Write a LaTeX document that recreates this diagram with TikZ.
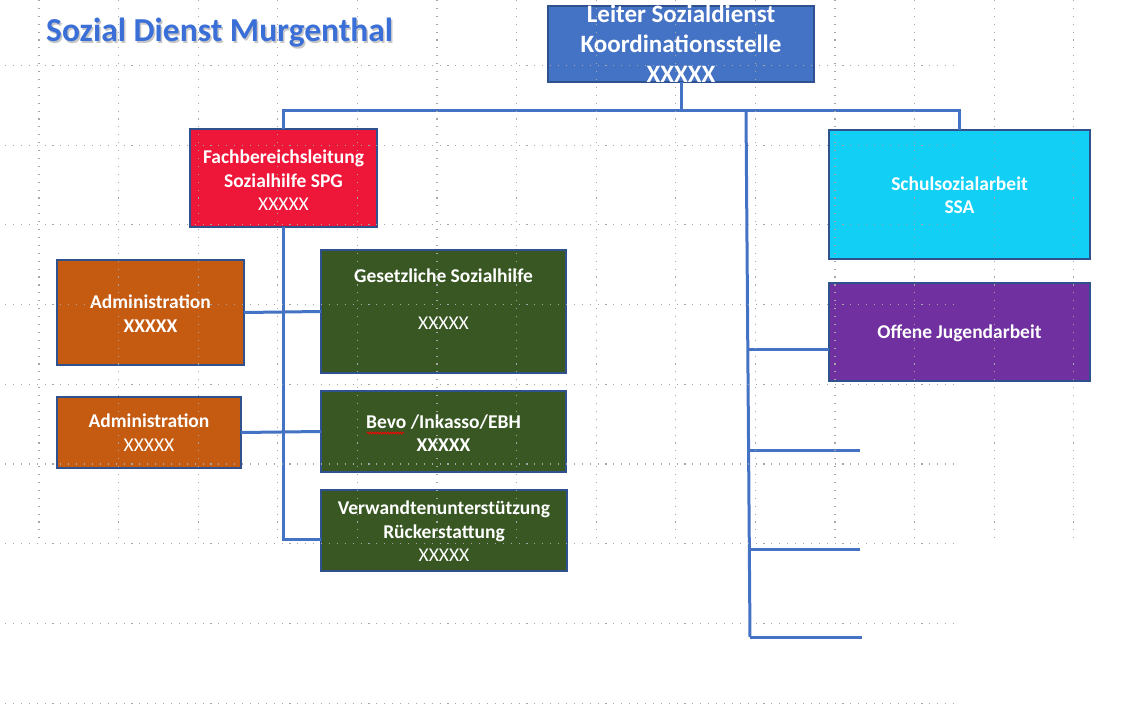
\documentclass[tikz,border=0pt]{standalone}
\usepackage{fontspec}
\setmainfont{Carlito}
\usetikzlibrary{calc,decorations.pathmorphing}
\definecolor{leiterc}{HTML}{4472C4}
\definecolor{bordc}{HTML}{2F528F}
\definecolor{redc}{HTML}{EE1639}
\definecolor{cyanc}{HTML}{12D0F5}
\definecolor{purpc}{HTML}{7030A0}
\definecolor{orangec}{HTML}{C55A11}
\definecolor{greenc}{HTML}{385723}
\definecolor{connc}{HTML}{4472C4}
\definecolor{titlec}{HTML}{3A6FD8}
\definecolor{gridc}{HTML}{A6A6A6}
\begin{document}
\begin{tikzpicture}[x=1pt,y=-1pt,
  box/.style={draw=bordc, line width=2.5pt, inner sep=0pt, outer sep=0pt},
  txt/.style={text=white, align=center, inner sep=0pt, font=\fontsize{19.5}{23.5}\selectfont\bfseries},
  conn/.style={draw=connc, line width=3pt},
  gridl/.style={draw=gridc, line width=1.1pt, dash pattern=on 1.1pt off 6.8pt}]
\useasboundingbox (0,0) rectangle (1144,706);
% title
\node[anchor=base west, inner sep=0pt, text=gray!45, font=\fontsize{33.5}{36}\selectfont\bfseries] (title-s) at (47.5,43.5) {Sozial Dienst Murgenthal};
\node[anchor=base west, inner sep=0pt, text=titlec, font=\fontsize{33.5}{36}\selectfont\bfseries] (title) at (46,42) {Sozial Dienst Murgenthal};
% boxes
\node[box, fill=leiterc, minimum width=266pt, minimum height=76pt] (L) at (681,44) {};
\node[box, fill=redc, minimum width=187pt, minimum height=98pt] (F) at (283.5,178) {};
\node[box, fill=cyanc, minimum width=261pt, minimum height=129pt] (S) at (959.5,194.5) {};
\node[box, fill=purpc, minimum width=261pt, minimum height=98pt] (O) at (959.5,332) {};
\node[box, fill=orangec, minimum width=187pt, minimum height=105pt] (A1) at (150.5,312.5) {};
\node[box, fill=greenc, minimum width=245pt, minimum height=123pt] (G) at (443.5,311.5) {};
\node[box, fill=orangec, minimum width=184pt, minimum height=71pt] (A2) at (149,432.5) {};
\node[box, fill=greenc, minimum width=245pt, minimum height=81pt] (B) at (443.5,431.5) {};
\node[box, fill=greenc, minimum width=246pt, minimum height=81pt] (V) at (444,530.5) {};
% texts
\begin{scope}
\clip (0,6) rectangle (1144,706);
\node[txt, font=\fontsize{25}{30}\selectfont\bfseries] (Lt) at (681,44) {Leiter Sozialdienst\\Koordinationsstelle\\XXXXX};
\end{scope}
\node[txt] (Ft) at (283.5,180.5) {Fachbereichsleitung\\Sozialhilfe SPG\\{\mdseries XXXXX}};
\node[txt] (St) at (959.5,195) {Schulsozialarbeit\\SSA};
\node[txt] (Ot) at (959.5,333) {Offene Jugendarbeit};
\node[txt] (A1t) at (150.5,313.5) {Administration\\XXXXX};
\node[txt] (Gt) at (443.5,299.5) {Gesetzliche Sozialhilfe\\[23.5pt]{\mdseries XXXXX}};
\node[txt] (A2t) at (149,432.5) {Administration\\{\mdseries XXXXX}};
\node[txt] (Bt) at (443.5,433) {Bevo /Inkasso/EBH\\XXXXX};
\node[txt] (Vt) at (444,531.5) {Verwandtenunterst\"utzung\\R\"uckerstattung\\{\mdseries XXXXX}};
\draw[red, line width=0.7pt, decorate, decoration={snake, amplitude=1pt, segment length=2.5pt}] (367,433) -- (404,433);
% connectors
\coordinate (bus) at (0,111);
\coordinate (sp) at (746,111);
\coordinate (spe) at (750,637);
\coordinate (e1) at (860,450);
\coordinate (e2) at (860,549);
\coordinate (e3) at (862,637);
\draw[conn] (L.south) -- (L.south |- bus);
\draw[conn] (F.north) -- (F.north |- bus) -- (S.north |- bus) -- (S.north);
\draw[conn] (sp) -- (spe);
\draw[conn] (749,349) -- ([yshift=-17pt]O.west);
\draw[conn] (748,450) -- (e1);
\draw[conn] (749,549) -- (e2);
\draw[conn] (spe) -- (e3);
\draw[conn] (F.south) |- ([yshift=-9pt]V.west);
\draw[conn] (A1.east) -- (G.west);
\draw[conn] (A2.east) -- (B.west);
% dotted grid
\foreach \k in {0,...,8} \draw[gridl] (5,65.5+79.7*\k) -- (957,65.5+79.7*\k);
\foreach \k in {0,...,13} \draw[gridl] (39+79.6*\k,0) -- (39+79.6*\k,540);
\end{tikzpicture}
\end{document}
